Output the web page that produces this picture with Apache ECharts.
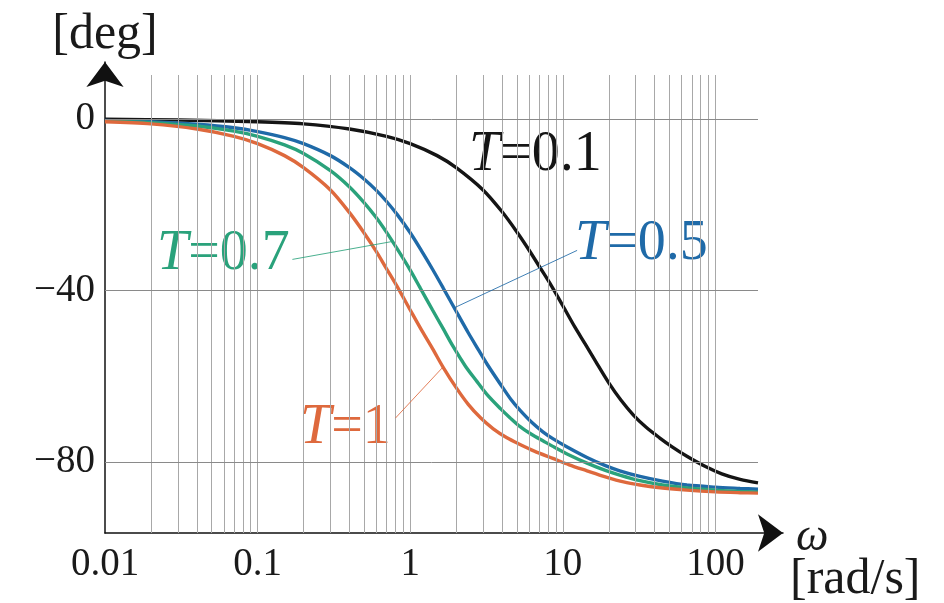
<!DOCTYPE html>
<html>
<head>
<meta charset="utf-8">
<script src="https://cdn.jsdelivr.net/npm/echarts@6/dist/echarts.min.js"></script>
<style>
  html, body { margin: 0; padding: 0; background: #fff; }
  #chart { width: 944px; height: 603px; }
</style>
</head>
<body>
<div id="chart"></div>
<script>
// phase curves: [omega rad/s, phase deg]
const phaseT01 = [[0.01, 0], [0.03, -0.2], [0.1, -0.6], [0.2, -1.1], [0.4, -2.3], [0.7, -4.0], [1, -5.7],
  [1.5, -8.5], [2, -11.3], [3, -16.5], [4, -21.6], [5, -26.3], [6, -30.5], [7, -34.3], [8.4, -38.8],
  [10, -43.5], [12, -48.5], [14, -52.4], [16.4, -56.5], [20, -61.5], [24, -65.5], [29, -69.0], [35, -71.8],
  [43, -74.3], [52, -76.4], [65, -78.6], [86, -81.0], [110, -82.7], [145, -84.0], [190, -84.8]];
const phaseT05 = [[0.01, -0.3], [0.02, -0.6], [0.04, -1.2], [0.07, -2.0], [0.1, -2.9], [0.15, -4.3],
  [0.2, -5.7], [0.3, -8.5], [0.4, -11.3], [0.5, -14.0], [0.6, -16.6], [0.7, -19.2], [0.82, -22.2],
  [1, -26.5], [1.2, -31.0], [1.4, -35.0], [1.64, -39.3], [2, -44.8], [2.4, -49.8], [2.8, -53.8],
  [3.2, -57.2], [3.9, -61.8], [4.6, -65.5], [5.25, -67.9], [6.3, -70.8], [7.4, -72.9], [8.6, -74.5],
  [10.6, -76.4], [14.4, -78.9], [19, -80.8], [23.6, -82.0], [32, -83.3], [45, -84.4], [65, -85.3],
  [100, -85.8], [145, -86.1], [190, -86.3]];
const phaseT07 = [[0.01, -0.4], [0.02, -0.8], [0.04, -1.6], [0.07, -2.8], [0.1, -4.0], [0.15, -6.0],
  [0.2, -8.0], [0.3, -12.0], [0.4, -15.8], [0.5, -19.5], [0.6, -23.0], [0.7, -26.4], [0.82, -30.2],
  [1, -35.2], [1.16, -39.3], [1.4, -44.5], [1.64, -48.8], [1.91, -53.0], [2.3, -57.6], [2.74, -61.2],
  [3.2, -64.3], [3.9, -67.5], [4.5, -69.6], [5.25, -71.7], [6.3, -73.6], [7.4, -75.0], [8.6, -76.3],
  [11, -78.3], [14.4, -80.2], [19, -81.9], [23.6, -83.0], [32, -84.3], [45, -85.3], [65, -86.0],
  [100, -86.5], [145, -86.8], [190, -87.0]];
const phaseT1 = [[0.01, -0.6], [0.02, -1.1], [0.04, -2.3], [0.07, -4.0], [0.1, -5.7], [0.15, -8.5],
  [0.2, -11.3], [0.3, -16.5], [0.4, -21.8], [0.5, -26.6], [0.6, -30.9], [0.7, -34.9], [0.82, -39.0],
  [1, -44.5], [1.2, -49.5], [1.4, -53.5], [1.64, -57.8], [2, -62.6], [2.4, -66.5], [2.9, -69.7],
  [3.5, -72.2], [4.3, -74.3], [5.2, -75.8], [6.5, -77.4], [8.6, -79.1], [11, -80.6], [14.4, -82.0],
  [19, -83.4], [25, -84.6], [32, -85.3], [45, -86.0], [65, -86.5], [100, -86.9], [145, -87.1], [190, -87.2]];

const yTicks = [-80, -40, 0];
const xGridLines = [0.02, 0.03, 0.04, 0.05, 0.06, 0.07, 0.08, 0.09, 0.1,
  0.2, 0.3, 0.4, 0.5, 0.6, 0.7, 0.8, 0.9, 1,
  2, 3, 4, 5, 6, 7, 8, 9, 10,
  20, 30, 40, 50, 60, 70, 80, 90, 100];

// leader lines from the labels to the curves
const leaderT07 = [[0.169, -32.7], [0.77, -28.5]];
const leaderT05 = [[12.4, -30.6], [1.94, -44.0]];
const leaderT1 = [[0.8, -69.7], [1.64, -57.8]];

const serif = '"Liberation Serif", "DejaVu Serif", serif';
const chart = echarts.init(document.getElementById('chart'));

function curve(name, data, color, leader) {
  const s = {
    name: name,
    type: 'line',
    data: data,
    smooth: 0.3,
    showSymbol: false,
    z: 3,
    lineStyle: { color: color, width: 3.4 }
  };
  if (leader) {
    s.markLine = {
      silent: true,
      symbol: 'none',
      label: { show: false },
      lineStyle: { color: color, width: 1, type: 'solid', opacity: 0.85 },
      data: [[{ coord: leader[0] }, { coord: leader[1] }]]
    };
  }
  return s;
}

function label(x, y, rest, color) {
  return {
    type: 'text',
    x: x,
    y: y,
    style: {
      text: '{i|T}=' + rest,
      fill: color,
      font: '56px ' + serif,
      verticalAlign: 'middle',
      rich: { i: { fontStyle: 'italic', fontSize: 56, fontFamily: serif, fill: color } }
    }
  };
}

chart.setOption({
  animation: false,
  grid: [
    { left: 105, right: 186, top: 75, bottom: 70 },
    { left: 105, right: 161, top: 62, bottom: 70 }
  ],
  xAxis: [{
    type: 'log',
    logBase: 10,
    min: 0.01,
    max: 190,
    gridIndex: 0,
    axisLine: { show: false },
    axisTick: { show: false },
    splitLine: { show: false },
    axisLabel: {
      showMaxLabel: false,
      margin: 12,
      color: '#1a1a1a',
      fontSize: 39,
      fontFamily: serif,
      formatter: v => String(+v.toPrecision(6))
    }
  }, {
    type: 'value', gridIndex: 1, min: 0, max: 1,
    axisLine: { show: true, onZero: false, symbol: ['none', 'arrow'], symbolSize: [28, 25],
      lineStyle: { color: '#111', width: 1.5 } },
    axisTick: { show: false }, axisLabel: { show: false }, splitLine: { show: false }
  }],
  yAxis: [{
    type: 'value',
    min: -96.5,
    max: 10.3,
    gridIndex: 0,
    axisLine: { show: false },
    axisTick: { show: false, customValues: yTicks },
    splitLine: { show: false },
    axisLabel: {
      customValues: yTicks,
      margin: 10,
      color: '#1a1a1a',
      fontSize: 39,
      fontFamily: serif,
      formatter: v => String(v).replace('-', '\u2212')
    }
  }, {
    type: 'value', gridIndex: 1, min: 0, max: 1,
    axisLine: { show: true, onZero: false, symbol: ['none', 'arrow'], symbolSize: [28, 25],
      lineStyle: { color: '#111', width: 1.5 } },
    axisTick: { show: false }, axisLabel: { show: false }, splitLine: { show: false }
  }],
  series: [
    {
      name: 'grid',
      type: 'scatter',
      data: [[1, 0]],
      symbolSize: 0,
      silent: true,
      z: 1,
      markLine: {
        silent: true,
        symbol: 'none',
        label: { show: false },
        lineStyle: { color: '#a8a8a8', width: 1, type: 'solid' },
        data: xGridLines.map(v => ({ xAxis: v }))
          .concat(yTicks.map(v => ({ yAxis: v, lineStyle: { color: '#8a8a8a', width: 1, type: 'solid' } })))
      }
    },
    curve('T=0.1', phaseT01, '#151515', null),
    curve('T=0.5', phaseT05, '#1f6aa8', leaderT05),
    curve('T=0.7', phaseT07, '#2aa27b', leaderT07),
    curve('T=1', phaseT1, '#de693d', leaderT1)
  ],
  graphic: [
    label(469, 155, '0.1', '#151515'),
    label(575, 244, '0.5', '#1f6aa8'),
    label(157, 254, '0.7', '#2aa27b'),
    label(300, 428, '1', '#de693d'),
    { type: 'text', x: 105, y: 35,
      style: { text: '[deg]', fill: '#1a1a1a', font: '50px ' + serif, align: 'center', verticalAlign: 'middle' } },
    { type: 'text', x: 796, y: 538,
      style: { text: 'ω', fill: '#1a1a1a', font: 'italic 46px ' + serif, verticalAlign: 'middle' } },
    { type: 'text', x: 790, y: 580,
      style: { text: '[rad/s]', fill: '#1a1a1a', font: '50px ' + serif, verticalAlign: 'middle' } }
  ]
});
</script>
</body>
</html>
